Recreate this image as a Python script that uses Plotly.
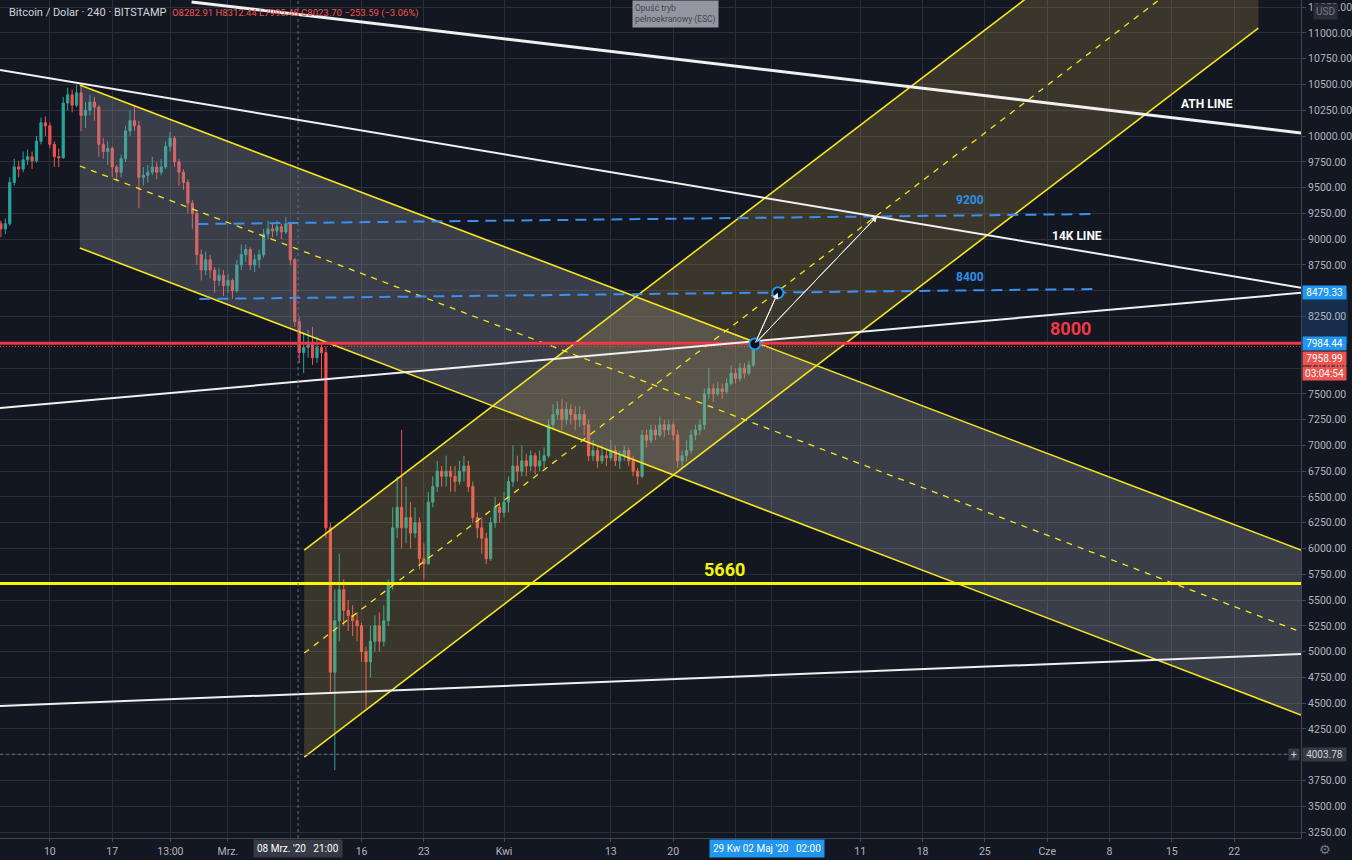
import pandas as pd
import plotly.graph_objects as go

# ---------------- data ----------------
CANDLE_START = "2020-02-04 12:00"   # 12h candles (BTC/USD, Bitstamp)
OPEN0 = 9150
CLOSE = [9100, 9150, 9550, 9700, 9680, 9770, 9800, 9760, 9950, 10130,
         10100, 9920, 9800, 9790, 10320, 10400, 10300, 10420, 10200, 10250,
         10330, 10280, 9920, 9850, 9880, 9700, 9650, 9780, 10050, 10150,
         10100, 9600, 9620, 9650, 9700, 9650, 9700, 9900, 9980, 9750,
         9650, 9550, 9350, 9250, 8850, 8700, 8800, 8700, 8600, 8650,
         8550, 8600, 8500, 8750, 8850, 8900, 8750, 8800, 8850, 9050,
         9100, 9080, 9120, 9070, 9150, 8800, 8200, 7900, 7950, 8000,
         7850, 7950, 7900, 6200, 4800, 5300, 5600, 5400, 5350, 5300,
         5250, 5000, 4900, 5100, 5250, 5100, 5300, 5650, 6200, 6400,
         6200, 6300, 6150, 6250, 5900, 5850, 6450, 6600, 6750, 6700,
         6750, 6700, 6650, 6750, 6800, 6600, 6300, 6200, 6100, 5900,
         6250, 6400, 6350, 6450, 6650, 6800, 6750, 6850, 6800, 6900,
         6800, 6850, 6900, 7200, 7300, 7350, 7250, 7350, 7300, 7250,
         7300, 7200, 6900, 6950, 6850, 6900, 6880, 6950, 6850, 6900,
         6950, 6850, 6750, 6700, 7100, 7050, 7150, 7100, 7200, 7150,
         7200, 7100, 6850, 6900, 6950, 7100, 7150, 7200, 7500, 7550,
         7500, 7550, 7520, 7600, 7700, 7650, 7750, 7700, 7780, 7958.99]
HIGH = [9180, 9200, 9600, 9780, 9760, 9850, 9870, 9850, 10000, 10180,
        10190, 10130, 9950, 9880, 10380, 10470, 10450, 10500, 10490, 10330,
        10400, 10380, 10300, 9980, 9950, 9900, 9720, 9820, 10100, 10250,
        10300, 10150, 9700, 9720, 9800, 9750, 9780, 9950, 10040, 10000,
        9780, 9680, 9580, 9380, 9280, 8900, 8880, 8850, 8730, 8720,
        8700, 8660, 8620, 8800, 8950, 8950, 8920, 8850, 8900, 9100,
        9180, 9160, 9180, 9150, 9215, 9160, 8820, 8250, 8100, 8120,
        8150, 8050, 7980, 7960, 6250, 5600, 5950, 5700, 5500, 5450,
        5380, 5280, 5050, 5250, 5350, 5380, 5450, 5700, 6400, 6700,
        7150, 6600, 6450, 6400, 6300, 6050, 6550, 6700, 6850, 6800,
        6900, 6800, 6800, 6850, 6900, 6850, 6650, 6350, 6300, 6150,
        6300, 6500, 6450, 6550, 6700, 7000, 6900, 7000, 6920, 6950,
        6930, 6950, 6980, 7250, 7400, 7430, 7450, 7420, 7400, 7380,
        7380, 7350, 7250, 7050, 6980, 7000, 6960, 7050, 7000, 6950,
        7000, 6980, 6900, 6780, 7150, 7150, 7200, 7200, 7280, 7250,
        7250, 7230, 7150, 6950, 7050, 7150, 7200, 7250, 7550, 7750,
        7600, 7620, 7600, 7650, 7780, 7750, 7800, 7800, 7820, 8000]
LOW = [9020, 9050, 9130, 9520, 9600, 9650, 9720, 9680, 9740, 9920,
       10000, 9880, 9700, 9700, 9780, 10250, 10230, 10280, 10050, 10080,
       10200, 10150, 9800, 9780, 9720, 9600, 9560, 9600, 9750, 10000,
       10050, 9300, 9520, 9550, 9620, 9580, 9620, 9680, 9850, 9700,
       9520, 9480, 9250, 9100, 8750, 8600, 8650, 8620, 8480, 8550,
       8450, 8480, 8420, 8480, 8700, 8780, 8700, 8680, 8720, 8820,
       9000, 9020, 9030, 9000, 9050, 8750, 8150, 7800, 7700, 7850,
       7780, 7800, 7650, 6100, 4600, 3850, 5100, 5250, 5200, 5150,
       5100, 4900, 4450, 4750, 5000, 5000, 5050, 5250, 5600, 6100,
       6000, 6050, 6000, 6100, 5800, 5700, 5850, 6400, 6550, 6600,
       6600, 6550, 6550, 6620, 6650, 6550, 6250, 6100, 5950, 5850,
       5880, 6200, 6250, 6300, 6350, 6600, 6650, 6700, 6700, 6750,
       6720, 6750, 6780, 6880, 7150, 7250, 7150, 7200, 7200, 7150,
       7180, 7100, 6850, 6850, 6780, 6820, 6800, 6850, 6800, 6770,
       6850, 6800, 6700, 6620, 6680, 6980, 7020, 7050, 7080, 7080,
       7100, 7050, 6780, 6780, 6850, 6920, 7050, 7100, 7150, 7450,
       7420, 7480, 7450, 7500, 7580, 7600, 7620, 7650, 7680, 7760]

# axis
X_RANGE = ["2020-02-04 09:36", "2020-06-29 12:00"]
Y_RANGE = [3192, 11320]
X_TICKS = ["2020-02-10", "2020-02-17", "2020-02-23 13:00", "2020-03-01", "2020-03-08",
           "2020-03-16", "2020-03-23", "2020-04-01", "2020-04-13", "2020-04-20",
           "2020-04-27", "2020-05-01", "2020-05-11", "2020-05-18", "2020-05-25",
           "2020-06-01", "2020-06-08", "2020-06-15", "2020-06-22"]
X_LABELS = ["10", "17", "13:00", "Mrz.", "", "16", "23", "Kwi", "13", "20",
            "", "", "11", "18", "25", "Cze", "8", "15", "22"]

# drawings (time, price)
ATH_LINE = (["2020-02-25 22:00", "2020-06-29 12:00"], [11301, 10030])
K14_LINE = (["2020-02-04 09:36", "2020-06-29 12:00"], [10641, 8530])
RISE_LINE = (["2020-02-04 09:36", "2020-06-29 12:00"], [7362, 8479.33])
LOW_LINE = (["2020-02-04 09:36", "2020-06-29 12:00"], [4472, 4976])
LEVEL_8000 = 7990
LEVEL_5660 = 5660
LAST_PRICE = 7958.99
CROSS_PRICE = 4003.78
CROSS_TIME = "2020-03-08 21:00"
BLUE_9200 = (["2020-02-26 13:40", "2020-06-06 00:00"], [9147, 9244])
BLUE_8400 = (["2020-02-26 19:00", "2020-06-06 05:00"], [8420, 8517])
DESC_T = ["2020-02-13 08:40", "2020-06-29 12:00"]
DESC_TOP = [10496, 5985]
DESC_MID = [9710, 5190]
DESC_BOT = [8915, 4385]
ASC_T = ["2020-03-09 13:30", "2020-06-24 17:00"]
ASC_TOP = [5985, 13056]
ASC_MID = [4986, 12057]
ASC_BOT = [3977, 11048]
DOT_A = ("2020-04-29 04:00", 7984.44)
DOT_B = ("2020-05-01 18:00", 8479.33)
ARROW_END = ("2020-05-12 22:00", 9225)

# ---------------- styles ----------------
BG = "#131722"
GRID = "#2a2e39"
AXTXT = "#b2b5be"
UP, DOWN = "#26a69a", "#ef5350"
YEL = "#f5e61e"
WHITE = "#f0f0f0"
BLUE = "#3d8ef0"
RED = "#f23645"
FONT = "Roboto"

times = pd.date_range(CANDLE_START, periods=len(CLOSE), freq="12h")
OPEN = [OPEN0] + CLOSE[:-1]

fig = go.Figure()

# channel fills
fig.add_trace(go.Scatter(
    x=[DESC_T[0], DESC_T[1], DESC_T[1], DESC_T[0], DESC_T[0]],
    y=[DESC_TOP[0], DESC_TOP[1], DESC_BOT[1], DESC_BOT[0], DESC_TOP[0]],
    fill="toself", fillcolor="rgba(150,152,162,0.30)", line=dict(width=0),
    mode="lines", hoverinfo="skip", showlegend=False))
fig.add_trace(go.Scatter(
    x=[ASC_T[0], ASC_T[1], ASC_T[1], ASC_T[0], ASC_T[0]],
    y=[ASC_BOT[0], ASC_BOT[1], ASC_TOP[1], ASC_TOP[0], ASC_BOT[0]],
    fill="toself", fillcolor="rgba(200,170,80,0.22)", line=dict(width=0),
    mode="lines", hoverinfo="skip", showlegend=False))

# candles
fig.add_trace(go.Candlestick(
    x=times, open=OPEN, high=HIGH, low=LOW, close=CLOSE,
    increasing=dict(line=dict(color=UP, width=1), fillcolor=UP),
    decreasing=dict(line=dict(color=DOWN, width=1), fillcolor=DOWN),
    whiskerwidth=0, showlegend=False, hoverinfo="skip"))


def add_line(xs, ys, color, width, dash="solid"):
    fig.add_trace(go.Scatter(x=xs, y=ys, mode="lines",
                             line=dict(color=color, width=width, dash=dash),
                             hoverinfo="skip", showlegend=False))


# channel lines
add_line(DESC_T, DESC_TOP, YEL, 1.6)
add_line(DESC_T, DESC_BOT, YEL, 1.6)
add_line(DESC_T, DESC_MID, YEL, 1.3, "6px,6px")
add_line(ASC_T, ASC_TOP, YEL, 1.6)
add_line(ASC_T, ASC_BOT, YEL, 1.6)
add_line(ASC_T, ASC_MID, YEL, 1.3, "6px,6px")

# horizontal levels
add_line(X_RANGE, [LEVEL_5660, LEVEL_5660], "#f7f700", 3)
add_line(X_RANGE, [LEVEL_8000, LEVEL_8000], RED, 3)
add_line(X_RANGE, [LAST_PRICE, LAST_PRICE], "rgba(239,83,80,0.8)", 1, "1px,2px")
add_line(X_RANGE, [CROSS_PRICE, CROSS_PRICE], "#6a6d78", 1, "3px,3px")

# blue dashed
add_line(*BLUE_9200, BLUE, 2, "11px,7px")
add_line(*BLUE_8400, BLUE, 2, "11px,7px")

# white trend lines
add_line(*ATH_LINE, WHITE, 3)
add_line(*K14_LINE, WHITE, 2)
add_line(*RISE_LINE, WHITE, 2)
add_line(*LOW_LINE, WHITE, 2)

# arrows shafts
add_line([DOT_A[0], DOT_B[0]], [DOT_A[1], DOT_B[1]], WHITE, 1)
add_line([DOT_A[0], ARROW_END[0]], [DOT_A[1], ARROW_END[1]], WHITE, 1)

# dots
fig.add_trace(go.Scatter(x=[DOT_A[0], DOT_B[0]], y=[DOT_A[1], DOT_B[1]], mode="markers",
                         marker=dict(size=11, color="#0b0e16", line=dict(color="#2196f3", width=2)),
                         hoverinfo="skip", showlegend=False))

shapes = [
    dict(type="line", xref="x", yref="paper", x0=CROSS_TIME, x1=CROSS_TIME, y0=0, y1=1,
         line=dict(color="#6a6d78", width=1, dash="3px,3px")),
    dict(type="rect", xref="paper", yref="y", x0=1.0, x1=1.036, y0=LEVEL_8000 - 5.5, y1=DOT_B[1],
         fillcolor="rgba(33,110,200,0.25)", line=dict(width=0), layer="below"),
]

ann = []
# arrowheads
for (hx, hy) in (DOT_B, ARROW_END):
    ann.append(dict(x=hx, y=hy, ax=DOT_A[0], ay=DOT_A[1], xref="x", yref="y", axref="x", ayref="y",
                    showarrow=True, arrowhead=2, arrowsize=1.2, arrowwidth=1, arrowcolor=WHITE,
                    text="", standoff=0))

def label(text, x, y, color, size, bold=True):
    ann.append(dict(x=x, y=y, xref="x", yref="y", text=f"<b>{text}</b>" if bold else text,
                    showarrow=False, font=dict(family=FONT, size=size, color=color)))

label("ATH LINE", "2020-06-18 22:00", 10311, "#ffffff", 12)
label("14K LINE", "2020-06-04 08:00", 9031, "#ffffff", 12)
label("9200", "2020-05-23 09:00", 9380, "#2f8fe6", 12)
label("8400", "2020-05-23 09:00", 8633, "#2f8fe6", 12)
label("8000", "2020-06-03 14:00", 8138, RED, 18)
label("5660", "2020-04-25 19:00", 5801, "#f7f700", 18)

# price axis tags
def ptag(text, y, bg, yshift=0, fg="#ffffff"):
    ann.append(dict(x=1.0, y=y, xref="paper", yref="y", xanchor="left", yanchor="middle",
                    xshift=1, yshift=yshift, text=text, showarrow=False, bgcolor=bg,
                    width=43, height=13, borderpad=0,
                    font=dict(family=FONT, size=10, color=fg)))

ptag("8479.33", DOT_B[1], "#2196f3")
ptag("7984.44", DOT_A[1], "#2196f3")
ptag("7958.99", DOT_A[1], "#ef5350", yshift=-15)
ptag("03:04:54", DOT_A[1], "#ef5350", yshift=-30)
ptag(f"{CROSS_PRICE:.2f}", CROSS_PRICE, "#363a45", fg="#d1d4dc")
ann.append(dict(x=1.0, y=1.0, xref="paper", yref="paper", xanchor="left", yanchor="top",
                xshift=12, yshift=-3, text="USD", showarrow=False, bgcolor="#2a2e39",
                borderpad=2, font=dict(family=FONT, size=10, color="#787b86")))
ann.append(dict(x=1.0, y=CROSS_PRICE, xref="paper", yref="y", xanchor="right", yanchor="middle",
                xshift=-1, text="+", showarrow=False, bgcolor="#363a45", width=10, height=11,
                borderpad=0, font=dict(family=FONT, size=10, color="#d1d4dc")))

# time axis tags
def ttag(text, x, bg):
    ann.append(dict(x=x, y=0, xref="x", yref="paper", yanchor="top", yshift=-1,
                    text=text, showarrow=False, bgcolor=bg, borderpad=3,
                    font=dict(family=FONT, size=10, color="#ffffff")))

ttag("08 Mrz. '20&nbsp;&nbsp;&nbsp;21:00", CROSS_TIME, "#363a45")
ttag("29 Kw 02 Maj '20&nbsp;&nbsp;&nbsp;02:00", "2020-04-30 14:00", "#2196f3")

# header
ann.append(dict(x=0.005, y=0.985, xref="paper", yref="paper", xanchor="left", yanchor="middle",
                text="Bitcoin / Dolar · 240 · BITSTAMP", showarrow=False,
                font=dict(family=FONT, size=11, color="#d1d4dc")))
ann.append(dict(x=0.131, y=0.985, xref="paper", yref="paper", xanchor="left", yanchor="middle",
                text="O8282.91 H8312.44 L7995.48 C8023.70 −253.59 (−3.06%)",
                showarrow=False, font=dict(family=FONT, size=9.5, color="#ef5350")))
# fullscreen tooltip
ann.append(dict(x=0.519, y=1.0, xref="paper", yref="paper", xanchor="center", yanchor="top",
                text="Opuść tryb<br>pełnoekranowy (ESC)", showarrow=False, align="left",
                bgcolor="rgba(170,173,182,0.85)", borderpad=2,
                font=dict(family=FONT, size=8.5, color="#434651")))
# gear
ann.append(dict(x=1.0, y=0, xref="paper", yref="paper", xanchor="left", yanchor="top",
                xshift=16, yshift=-2, text="⚙", showarrow=False,
                font=dict(family="DejaVu Sans", size=13, color="#787b86")))

fig.update_layout(
    width=1352, height=860, autosize=False,
    margin=dict(l=0, r=47, t=0, b=22),
    paper_bgcolor=BG, plot_bgcolor=BG,
    shapes=shapes, annotations=ann, showlegend=False,
    font=dict(family=FONT, color=AXTXT, size=11),
    xaxis=dict(type="date", range=X_RANGE, tickmode="array", tickvals=X_TICKS, ticktext=X_LABELS,
               showgrid=True, gridcolor=GRID, gridwidth=1, zeroline=False,
               showline=True, linecolor="#434651", ticks="outside", ticklen=3, tickcolor="#434651",
               tickfont=dict(family=FONT, size=10.5, color=AXTXT), rangeslider=dict(visible=False),
               fixedrange=True),
    yaxis=dict(side="right", range=Y_RANGE, dtick=250, tick0=0, tickformat=".2f",
               showgrid=True, gridcolor=GRID, gridwidth=1, zeroline=False,
               showline=True, linecolor="#434651", ticks="outside", ticklen=4, tickcolor="#434651",
               tickfont=dict(family=FONT, size=10.5, color=AXTXT), fixedrange=True),
)

fig.write_html("out.html", config={"displayModeBar": False},
               post_script="document.body.style.margin='0';document.body.style.background='#131722';")
